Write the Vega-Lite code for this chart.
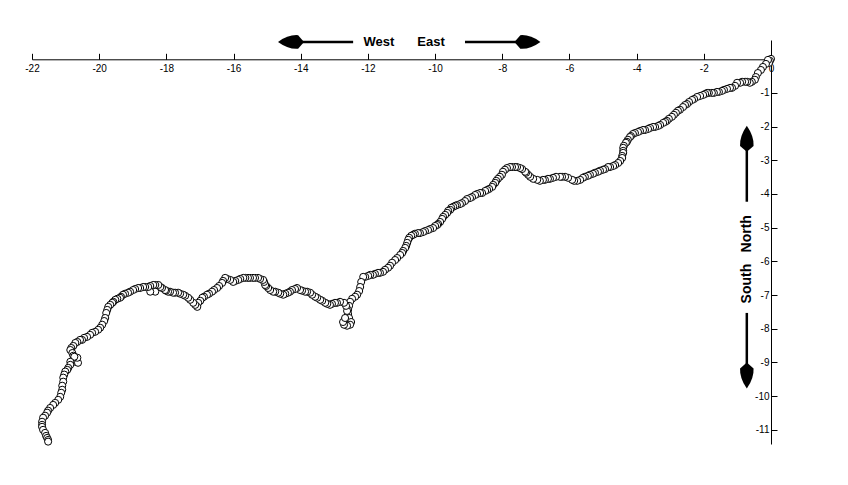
{
  "$schema": "https://vega.github.io/schema/vega-lite/v6.json",
  "width": 739,
  "height": 404,
  "autosize": "none",
  "padding": {"left": 32, "top": 40, "right": 77, "bottom": 41},
  "background": "white",
  "config": {
    "view": {"stroke": null},
    "font": "Liberation Sans",
    "axis": {"labelFont": "Liberation Sans", "labelFontSize": 10, "labelColor": "black", "domainColor": "black", "tickColor": "black", "domainWidth": 1, "tickWidth": 1, "tickSize": 6, "grid": false, "title": null}
  },
  "datasets": {
    "track": [
      {"x":0.00,"y":0.01},{"x":-0.03,"y":-0.05},{"x":-0.06,"y":-0.11},{"x":-0.09,"y":-0.02},{"x":-0.15,"y":-0.14},{"x":-0.24,"y":-0.23},{"x":-0.30,"y":-0.32},{"x":-0.39,"y":-0.41},{"x":-0.45,"y":-0.53},{"x":-0.48,"y":-0.61},
      {"x":-0.57,"y":-0.67},{"x":-0.63,"y":-0.70},{"x":-0.71,"y":-0.67},{"x":-0.77,"y":-0.67},{"x":-0.86,"y":-0.67},{"x":-0.92,"y":-0.70},{"x":-1.01,"y":-0.70},{"x":-1.07,"y":-0.79},{"x":-1.16,"y":-0.85},{"x":-1.22,"y":-0.85},
      {"x":-1.31,"y":-0.88},{"x":-1.40,"y":-0.91},{"x":-1.46,"y":-0.94},{"x":-1.55,"y":-0.97},{"x":-1.61,"y":-0.97},{"x":-1.70,"y":-1.00},{"x":-1.76,"y":-1.00},{"x":-1.85,"y":-1.00},{"x":-1.90,"y":-1.00},{"x":-1.96,"y":-1.03},
      {"x":-2.02,"y":-1.06},{"x":-2.11,"y":-1.09},{"x":-2.20,"y":-1.12},{"x":-2.29,"y":-1.18},{"x":-2.35,"y":-1.21},{"x":-2.44,"y":-1.27},{"x":-2.50,"y":-1.33},{"x":-2.56,"y":-1.36},{"x":-2.62,"y":-1.42},{"x":-2.71,"y":-1.50},
      {"x":-2.77,"y":-1.53},{"x":-2.83,"y":-1.59},{"x":-2.89,"y":-1.65},{"x":-2.95,"y":-1.71},{"x":-3.04,"y":-1.77},{"x":-3.10,"y":-1.83},{"x":-3.15,"y":-1.86},{"x":-3.21,"y":-1.89},{"x":-3.30,"y":-1.95},{"x":-3.36,"y":-1.98},
      {"x":-3.45,"y":-2.01},{"x":-3.51,"y":-2.01},{"x":-3.60,"y":-2.04},{"x":-3.66,"y":-2.07},{"x":-3.75,"y":-2.10},{"x":-3.81,"y":-2.10},{"x":-3.90,"y":-2.13},{"x":-3.96,"y":-2.16},{"x":-4.05,"y":-2.19},{"x":-4.11,"y":-2.22},
      {"x":-4.17,"y":-2.28},{"x":-4.20,"y":-2.31},{"x":-4.26,"y":-2.39},{"x":-4.29,"y":-2.45},{"x":-4.32,"y":-2.48},{"x":-4.38,"y":-2.57},{"x":-4.40,"y":-2.63},{"x":-4.40,"y":-2.72},{"x":-4.40,"y":-2.78},{"x":-4.43,"y":-2.87},
      {"x":-4.43,"y":-2.93},{"x":-4.49,"y":-3.02},{"x":-4.55,"y":-3.08},{"x":-4.64,"y":-3.14},{"x":-4.70,"y":-3.17},{"x":-4.79,"y":-3.20},{"x":-4.85,"y":-3.20},{"x":-4.94,"y":-3.26},{"x":-5.00,"y":-3.28},{"x":-5.09,"y":-3.31},
      {"x":-5.15,"y":-3.34},{"x":-5.24,"y":-3.37},{"x":-5.30,"y":-3.40},{"x":-5.39,"y":-3.43},{"x":-5.45,"y":-3.46},{"x":-5.54,"y":-3.49},{"x":-5.60,"y":-3.52},{"x":-5.68,"y":-3.58},{"x":-5.77,"y":-3.61},{"x":-5.86,"y":-3.61},
      {"x":-5.92,"y":-3.58},{"x":-6.04,"y":-3.52},{"x":-6.13,"y":-3.49},{"x":-6.22,"y":-3.49},{"x":-6.28,"y":-3.49},{"x":-6.40,"y":-3.49},{"x":-6.49,"y":-3.52},{"x":-6.58,"y":-3.55},{"x":-6.64,"y":-3.55},{"x":-6.73,"y":-3.58},
      {"x":-6.79,"y":-3.58},{"x":-6.88,"y":-3.61},{"x":-6.96,"y":-3.58},{"x":-7.08,"y":-3.55},{"x":-7.17,"y":-3.49},{"x":-7.23,"y":-3.43},{"x":-7.29,"y":-3.37},{"x":-7.32,"y":-3.34},{"x":-7.41,"y":-3.26},{"x":-7.47,"y":-3.23},
      {"x":-7.56,"y":-3.20},{"x":-7.62,"y":-3.20},{"x":-7.71,"y":-3.20},{"x":-7.77,"y":-3.20},{"x":-7.86,"y":-3.23},{"x":-7.92,"y":-3.28},{"x":-7.98,"y":-3.34},{"x":-8.01,"y":-3.43},{"x":-8.07,"y":-3.49},{"x":-8.13,"y":-3.55},
      {"x":-8.18,"y":-3.61},{"x":-8.21,"y":-3.67},{"x":-8.27,"y":-3.73},{"x":-8.30,"y":-3.79},{"x":-8.39,"y":-3.85},{"x":-8.45,"y":-3.88},{"x":-8.51,"y":-3.91},{"x":-8.60,"y":-3.97},{"x":-8.66,"y":-3.97},{"x":-8.75,"y":-4.00},
      {"x":-8.81,"y":-4.03},{"x":-8.90,"y":-4.09},{"x":-8.96,"y":-4.12},{"x":-9.05,"y":-4.15},{"x":-9.11,"y":-4.21},{"x":-9.20,"y":-4.27},{"x":-9.26,"y":-4.30},{"x":-9.35,"y":-4.33},{"x":-9.40,"y":-4.35},{"x":-9.46,"y":-4.38},
      {"x":-9.52,"y":-4.41},{"x":-9.55,"y":-4.47},{"x":-9.61,"y":-4.50},{"x":-9.64,"y":-4.56},{"x":-9.70,"y":-4.62},{"x":-9.76,"y":-4.68},{"x":-9.79,"y":-4.74},{"x":-9.85,"y":-4.83},{"x":-9.91,"y":-4.89},{"x":-9.94,"y":-4.92},
      {"x":-10.00,"y":-4.95},{"x":-10.06,"y":-5.01},{"x":-10.15,"y":-5.04},{"x":-10.21,"y":-5.07},{"x":-10.30,"y":-5.10},{"x":-10.36,"y":-5.13},{"x":-10.45,"y":-5.16},{"x":-10.51,"y":-5.16},{"x":-10.60,"y":-5.18},{"x":-10.65,"y":-5.21},
      {"x":-10.71,"y":-5.24},{"x":-10.77,"y":-5.30},{"x":-10.80,"y":-5.36},{"x":-10.83,"y":-5.45},{"x":-10.86,"y":-5.54},{"x":-10.89,"y":-5.60},{"x":-10.95,"y":-5.69},{"x":-10.98,"y":-5.75},{"x":-11.04,"y":-5.81},{"x":-11.13,"y":-5.90},
      {"x":-11.19,"y":-5.96},{"x":-11.28,"y":-6.04},{"x":-11.34,"y":-6.13},{"x":-11.40,"y":-6.19},{"x":-11.49,"y":-6.25},{"x":-11.55,"y":-6.31},{"x":-11.64,"y":-6.34},{"x":-11.70,"y":-6.34},{"x":-11.79,"y":-6.37},{"x":-11.85,"y":-6.40},
      {"x":-11.93,"y":-6.40},{"x":-11.99,"y":-6.43},{"x":-12.08,"y":-6.46},{"x":-12.14,"y":-6.46},{"x":-12.20,"y":-6.61},{"x":-12.23,"y":-6.76},{"x":-12.26,"y":-6.88},{"x":-12.32,"y":-6.99},{"x":-12.38,"y":-7.05},{"x":-12.47,"y":-7.11},
      {"x":-12.53,"y":-7.20},{"x":-12.56,"y":-7.32},{"x":-12.59,"y":-7.44},{"x":-12.59,"y":-7.56},{"x":-12.56,"y":-7.68},{"x":-12.50,"y":-7.80},{"x":-12.53,"y":-7.88},{"x":-12.62,"y":-7.91},{"x":-12.71,"y":-7.88},{"x":-12.74,"y":-7.80},
      {"x":-12.68,"y":-7.68},{"x":-12.62,"y":-7.47},{"x":-12.65,"y":-7.32},{"x":-12.71,"y":-7.23},{"x":-12.83,"y":-7.20},{"x":-12.92,"y":-7.23},{"x":-12.98,"y":-7.23},{"x":-13.07,"y":-7.26},{"x":-13.13,"y":-7.29},{"x":-13.21,"y":-7.26},
      {"x":-13.27,"y":-7.23},{"x":-13.36,"y":-7.17},{"x":-13.42,"y":-7.14},{"x":-13.51,"y":-7.08},{"x":-13.57,"y":-7.05},{"x":-13.66,"y":-6.99},{"x":-13.72,"y":-6.93},{"x":-13.81,"y":-6.90},{"x":-13.87,"y":-6.90},{"x":-13.96,"y":-6.87},
      {"x":-14.02,"y":-6.85},{"x":-14.11,"y":-6.79},{"x":-14.17,"y":-6.82},{"x":-14.26,"y":-6.85},{"x":-14.32,"y":-6.90},{"x":-14.38,"y":-6.93},{"x":-14.46,"y":-6.96},{"x":-14.52,"y":-6.99},{"x":-14.61,"y":-6.96},{"x":-14.67,"y":-6.93},
      {"x":-14.76,"y":-6.90},{"x":-14.82,"y":-6.90},{"x":-14.91,"y":-6.85},{"x":-14.97,"y":-6.79},{"x":-15.03,"y":-6.73},{"x":-15.06,"y":-6.70},{"x":-15.09,"y":-6.61},{"x":-15.12,"y":-6.55},{"x":-15.21,"y":-6.52},{"x":-15.27,"y":-6.49},
      {"x":-15.36,"y":-6.49},{"x":-15.42,"y":-6.49},{"x":-15.51,"y":-6.49},{"x":-15.57,"y":-6.49},{"x":-15.65,"y":-6.49},{"x":-15.71,"y":-6.49},{"x":-15.80,"y":-6.52},{"x":-15.86,"y":-6.55},{"x":-15.95,"y":-6.58},{"x":-16.01,"y":-6.61},
      {"x":-16.10,"y":-6.55},{"x":-16.19,"y":-6.52},{"x":-16.25,"y":-6.49},{"x":-16.31,"y":-6.58},{"x":-16.34,"y":-6.64},{"x":-16.43,"y":-6.73},{"x":-16.49,"y":-6.79},{"x":-16.58,"y":-6.85},{"x":-16.64,"y":-6.90},{"x":-16.73,"y":-6.96},
      {"x":-16.79,"y":-6.99},{"x":-16.88,"y":-7.05},{"x":-16.93,"y":-7.08},{"x":-16.99,"y":-7.17},{"x":-17.05,"y":-7.23},{"x":-17.08,"y":-7.35},{"x":-17.14,"y":-7.29},{"x":-17.20,"y":-7.23},{"x":-17.29,"y":-7.14},{"x":-17.35,"y":-7.08},
      {"x":-17.44,"y":-7.02},{"x":-17.50,"y":-6.99},{"x":-17.59,"y":-6.96},{"x":-17.65,"y":-6.93},{"x":-17.74,"y":-6.93},{"x":-17.80,"y":-6.93},{"x":-17.89,"y":-6.90},{"x":-17.95,"y":-6.90},{"x":-18.01,"y":-6.87},{"x":-18.04,"y":-6.85},
      {"x":-18.13,"y":-6.79},{"x":-18.18,"y":-6.76},{"x":-18.24,"y":-6.70},{"x":-18.33,"y":-6.70},{"x":-18.33,"y":-6.90},{"x":-18.39,"y":-6.70},{"x":-18.48,"y":-6.73},{"x":-18.48,"y":-6.90},{"x":-18.54,"y":-6.76},{"x":-18.63,"y":-6.76},
      {"x":-18.69,"y":-6.76},{"x":-18.78,"y":-6.79},{"x":-18.84,"y":-6.79},{"x":-18.93,"y":-6.82},{"x":-18.99,"y":-6.85},{"x":-19.08,"y":-6.90},{"x":-19.14,"y":-6.93},{"x":-19.23,"y":-6.96},{"x":-19.29,"y":-6.99},{"x":-19.35,"y":-7.05},
      {"x":-19.38,"y":-7.08},{"x":-19.46,"y":-7.11},{"x":-19.52,"y":-7.14},{"x":-19.58,"y":-7.20},{"x":-19.61,"y":-7.23},{"x":-19.67,"y":-7.29},{"x":-19.73,"y":-7.35},{"x":-19.76,"y":-7.44},{"x":-19.79,"y":-7.53},{"x":-19.82,"y":-7.68},
      {"x":-19.85,"y":-7.77},{"x":-19.91,"y":-7.88},{"x":-19.97,"y":-7.97},{"x":-20.03,"y":-8.03},{"x":-20.12,"y":-8.09},{"x":-20.21,"y":-8.12},{"x":-20.27,"y":-8.18},{"x":-20.36,"y":-8.24},{"x":-20.45,"y":-8.27},{"x":-20.51,"y":-8.33},
      {"x":-20.57,"y":-8.33},{"x":-20.65,"y":-8.39},{"x":-20.71,"y":-8.42},{"x":-20.77,"y":-8.51},{"x":-20.83,"y":-8.57},{"x":-20.86,"y":-8.63},{"x":-20.80,"y":-8.72},{"x":-20.77,"y":-8.80},{"x":-20.77,"y":-8.92},{"x":-20.71,"y":-8.98},
      {"x":-20.63,"y":-9.01},{"x":-20.65,"y":-8.86},{"x":-20.74,"y":-8.83},{"x":-20.86,"y":-8.98},{"x":-20.86,"y":-9.07},{"x":-20.92,"y":-9.16},{"x":-20.95,"y":-9.22},{"x":-21.01,"y":-9.27},{"x":-21.04,"y":-9.36},{"x":-21.07,"y":-9.45},
      {"x":-21.07,"y":-9.57},{"x":-21.10,"y":-9.69},{"x":-21.10,"y":-9.81},{"x":-21.13,"y":-9.90},{"x":-21.16,"y":-10.02},{"x":-21.22,"y":-10.11},{"x":-21.31,"y":-10.20},{"x":-21.37,"y":-10.26},{"x":-21.46,"y":-10.35},{"x":-21.52,"y":-10.43},
      {"x":-21.55,"y":-10.49},{"x":-21.61,"y":-10.58},{"x":-21.67,"y":-10.64},{"x":-21.70,"y":-10.76},{"x":-21.70,"y":-10.85},{"x":-21.70,"y":-10.91},{"x":-21.67,"y":-11.00},{"x":-21.61,"y":-11.09},{"x":-21.58,"y":-11.18},{"x":-21.55,"y":-11.24},
      {"x":-21.52,"y":-11.30},{"x":-21.52,"y":-11.35}
    ],
    "lines": [
      {"x":-14.02,"x2":-12.44,"y":0.513,"y2":0.513},
      {"x":-9.11,"x2":-7.47,"y":0.513,"y2":0.513},
      {"x":-0.72,"x2":-0.72,"y":-2.57,"y2":-4.23},
      {"x":-0.72,"x2":-0.72,"y":-7.53,"y2":-9.07}
    ],
    "hlabels": [
      {"x":-11.67,"y":0.513,"label":"West"},
      {"x":-10.12,"y":0.513,"label":"East"}
    ],
    "vlabels": [
      {"x":-0.71,"y":-5.18,"label":"North"},
      {"x":-0.71,"y":-6.66,"label":"South"}
    ]
  },
  "encoding": {
    "x": {"field": "x", "type": "quantitative",
          "scale": {"domain": [-22, 0], "nice": false, "zero": false},
          "axis": {"orient": "top", "offset": -19.3, "values": [-22,-20,-18,-16,-14,-12,-10,-8,-6,-4,-2,0],
                   "labelExpr": "toString(datum.value)",
                   "labelBaseline": "alphabetic", "labelPadding": -18.5, "labelFlush": false, "labelOverlap": false}},
    "y": {"field": "y", "type": "quantitative",
          "scale": {"domain": [-11.42, 0.57], "nice": false, "zero": false},
          "axis": {"orient": "right", "values": [-1,-2,-3,-4,-5,-6,-7,-8,-9,-10,-11],
                   "labelExpr": "toString(datum.value)",
                   "labelAlign": "right", "labelPadding": -8, "labelFlush": false, "labelOverlap": false}}
  },
  "layer": [
    {
      "data": {"name": "track"},
      "mark": {"type": "point", "shape": "circle", "size": 50, "fill": "white", "stroke": "black", "strokeWidth": 1, "opacity": 1, "filled": false}
    },
    {
      "data": {"name": "lines"},
      "mark": {"type": "rule", "color": "black", "strokeWidth": 2.5},
      "encoding": {"x2": {"field": "x2"}, "y2": {"field": "y2"}}
    },
    {
      "data": {"values": [{"x": -14.29, "y": 0.513}]},
      "mark": {"type": "point", "shape": "M -1 0 Q -0.2 -0.58 0.55 -0.52 L 1 0 L 0.55 0.52 Q -0.2 0.58 -1 0 Z", "size": 676, "filled": true, "color": "black", "opacity": 1}
    },
    {
      "data": {"values": [{"x": -7.25, "y": 0.513}]},
      "mark": {"type": "point", "shape": "M 1 0 Q 0.2 -0.58 -0.55 -0.52 L -1 0 L -0.55 0.52 Q 0.2 0.58 1 0 Z", "size": 676, "filled": true, "color": "black", "opacity": 1}
    },
    {
      "data": {"values": [{"x": -0.72, "y": -2.36}]},
      "mark": {"type": "point", "shape": "M 0 -1 Q -0.56 -0.2 -0.52 0.55 L 0 1 L 0.52 0.55 Q 0.56 -0.2 0 -1 Z", "size": 676, "filled": true, "color": "black", "opacity": 1}
    },
    {
      "data": {"values": [{"x": -0.72, "y": -9.39}]},
      "mark": {"type": "point", "shape": "M 0 1 Q -0.56 0.2 -0.52 -0.55 L 0 -1 L 0.52 -0.55 Q 0.56 0.2 0 1 Z", "size": 676, "filled": true, "color": "black", "opacity": 1}
    },
    {
      "data": {"name": "hlabels"},
      "mark": {"type": "text", "font": "Liberation Sans", "fontSize": 13, "fontWeight": "bold", "color": "black", "align": "center", "baseline": "middle"},
      "encoding": {"text": {"field": "label"}}
    },
    {
      "data": {"name": "vlabels"},
      "mark": {"type": "text", "font": "Liberation Sans", "fontSize": 14, "fontWeight": "bold", "color": "black", "align": "center", "baseline": "middle", "angle": 270},
      "encoding": {"text": {"field": "label"}}
    }
  ]
}
